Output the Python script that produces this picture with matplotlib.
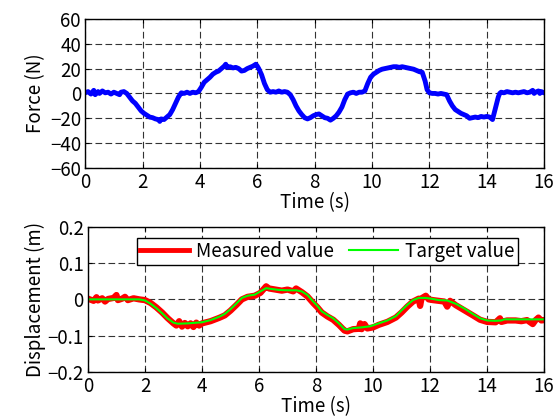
import matplotlib
matplotlib.use("Agg")
import matplotlib.pyplot as plt

plt.rcParams.update({
    "font.family": ["Noto Sans CJK JP", "DejaVu Sans"],
    "font.size": 13.5,
    "axes.linewidth": 1.0,
    "xtick.direction": "in",
    "ytick.direction": "in",
    "xtick.top": True,
    "ytick.right": True,
    "xtick.major.size": 3,
    "ytick.major.size": 3,
    "xtick.major.pad": 3,
    "ytick.major.pad": 3,
})

# ---- force data ----
t_force = [0.0, 0.1, 0.2, 0.3, 0.35, 0.45, 0.5, 0.6, 0.7, 0.8, 0.9, 1.0, 1.1, 1.2, 1.25, 1.35,
           1.45, 1.55, 1.65, 1.75, 1.85, 1.95, 2.05, 2.15, 2.25, 2.35, 2.45, 2.55, 2.6, 2.65,
           2.75, 2.85, 2.95, 3.05, 3.15, 3.25, 3.35, 3.45, 3.55, 3.65, 3.75, 3.85, 3.95, 4.05,
           4.15, 4.25, 4.35, 4.45, 4.55, 4.65, 4.75, 4.85, 4.9, 4.95, 5.05, 5.15, 5.25, 5.35,
           5.45, 5.55, 5.65, 5.75, 5.85, 5.95, 6.0, 6.05, 6.15, 6.25, 6.35, 6.45, 6.55, 6.65,
           6.75, 6.85, 6.95, 7.05, 7.15, 7.25, 7.35, 7.45, 7.55, 7.65, 7.75, 7.85, 7.95, 8.05,
           8.15, 8.25, 8.35, 8.45, 8.55, 8.65, 8.75, 8.85, 8.95, 9.05, 9.15, 9.25, 9.35, 9.45,
           9.55, 9.65, 9.75, 9.85, 9.95, 10.05, 10.15, 10.25, 10.35, 10.45, 10.55, 10.65, 10.75,
           10.85, 10.95, 11.05, 11.15, 11.25, 11.35, 11.45, 11.55, 11.65, 11.75, 11.85, 11.92,
           12.0, 12.1, 12.2, 12.3, 12.4, 12.5, 12.6, 12.7, 12.8, 12.9, 13.0, 13.1, 13.2, 13.3,
           13.4, 13.5, 13.6, 13.7, 13.8, 13.9, 14.0, 14.1, 14.2, 14.3, 14.4, 14.45, 14.5, 14.6,
           14.7, 14.8, 14.9, 15.0, 15.1, 15.2, 15.3, 15.4, 15.5, 15.6, 15.65, 15.7, 15.8, 15.85,
           15.9, 16.0]
force = [0.5, 1.5, -0.5, 2.5, -1, 1.5, 0, 2, 0.5, 1, -0.5, 1, 0, -1, 1, 1.5,
         0, -3, -6, -8, -11, -14, -16, -17.5, -19, -19.5, -20.5, -21, -22.5, -20.5,
         -21, -19, -17, -13, -8, -3, 0.5, 0, 1, 0, 1, 0.5, 1.5, 5,
         9, 11, 13, 15.5, 17, 18, 20, 22, 23.5, 21, 21.5, 20.5, 21, 20,
         18, 18.5, 20, 21, 22, 23.5, 22, 20, 15, 8, 3, 1, 1.5, 1,
         2, 1, 1.5, 1, -1, -5, -10, -14, -17, -19.5, -20.5, -19.5, -18, -17,
         -16.5, -18, -19.5, -20, -21.5, -20, -18, -15, -11, -5, -0.5, 0.5, 1, 0,
         1, 1, 2, 8, 13, 15.5, 17, 18.5, 19.5, 20, 20.5, 21, 21.5,
         21.5, 21, 21.5, 21, 20.5, 20, 19.5, 18.5, 17.5, 17, 10, 3,
         0.5, 0, 0, -0.5, 0, -0.5, -1, -6, -10, -13, -14.5, -16, -17, -18,
         -20, -19.5, -19, -19.5, -18.5, -19, -18.5, -19, -21, -12, -3, 0, 1, 0.5,
         1.5, 1, 0.5, 1, 0.5, 1, 1.5, 0.5, 1, 2.5, 0, 1, 2, 0,
         1.5, 0.5]

# ---- displacement data ----
t_target = [0, 1.8, 2.0, 2.2, 2.4, 2.6, 2.8, 3.0, 3.15, 3.5, 4.0, 4.3, 4.6, 4.8, 5.0, 5.2,
            5.4, 5.6, 5.85, 6.05, 6.25, 6.4, 6.7, 7.0, 7.3, 7.5, 7.7, 7.9, 8.05, 8.2, 8.4,
            8.6, 8.8, 9.0, 9.1, 9.3, 9.6, 9.9, 10.2, 10.5, 10.8, 11.0, 11.2, 11.4, 11.6,
            11.85, 12.1, 12.3, 12.6, 12.9, 13.2, 13.5, 13.75, 14.0, 14.3, 14.5, 14.6, 15.0,
            15.5, 16.0]
target = [0, 0, -0.003, -0.012, -0.024, -0.038, -0.053, -0.064, -0.067, -0.066, -0.063,
          -0.057, -0.048, -0.040, -0.027, -0.012, 0.004, 0.010, 0.013, 0.022, 0.031, 0.029,
          0.026, 0.025, 0.025, 0.022, 0.012, -0.006, -0.018, -0.033, -0.043, -0.052, -0.066,
          -0.082, -0.083, -0.079, -0.077, -0.074, -0.066, -0.058, -0.046, -0.030, -0.015,
          -0.002, 0.004, 0.004, 0.001, -0.002, -0.003, -0.012, -0.025, -0.040, -0.052,
          -0.058, -0.059, -0.058, -0.055, -0.055, -0.055, -0.055]

t_meas = [0, 0.2, 0.3, 0.35, 0.5, 0.6, 0.7, 0.9, 1.0, 1.05, 1.2, 1.3, 1.4, 1.6, 1.8, 2.0,
          2.2, 2.4, 2.6, 2.8, 3.0, 3.1, 3.2, 3.3, 3.4, 3.5, 3.6, 3.7, 3.8, 3.9, 4.0, 4.3,
          4.6, 4.8, 5.0, 5.2, 5.4, 5.6, 5.85, 6.05, 6.25, 6.35, 6.5, 6.8, 7.0, 7.2, 7.3,
          7.5, 7.7, 7.9, 8.05, 8.2, 8.4, 8.6, 8.8, 9.0, 9.1, 9.3, 9.5, 9.55, 9.6, 9.7, 9.8,
          10.0, 10.2, 10.5, 10.8, 11.0, 11.2, 11.4, 11.6, 11.65, 11.7, 11.85, 11.95, 12.1,
          12.3, 12.5, 12.6, 12.7, 12.9, 13.2, 13.5, 13.75, 14.0, 14.3, 14.45, 14.5, 14.7,
          15.0, 15.2, 15.4, 15.6, 15.7, 15.8, 15.9, 16.0]
measured = [0.002, -0.004, 0.006, -0.003, 0.003, -0.006, 0.001, 0.004, 0.012, -0.002,
            0.002, 0.007, -0.002, 0.003, 0.000, -0.002, -0.010, -0.022, -0.036, -0.052,
            -0.066, -0.072, -0.060, -0.075, -0.065, -0.074, -0.066, -0.076, -0.064, -0.072,
            -0.066, -0.060, -0.051, -0.044, -0.031, -0.016, 0.000, 0.007, 0.010, 0.018,
            0.036, 0.030, 0.028, 0.024, 0.027, 0.022, 0.030, 0.020, 0.008, -0.010, -0.022,
            -0.036, -0.047, -0.056, -0.070, -0.086, -0.088, -0.082, -0.081, -0.066, -0.082,
            -0.068, -0.080, -0.077, -0.070, -0.062, -0.050, -0.036, -0.020, -0.006, 0.002,
            -0.018, 0.003, 0.010, 0.000, -0.002, -0.004, -0.006, -0.020, -0.004, -0.016,
            -0.030, -0.044, -0.056, -0.062, -0.063, -0.052, -0.062, -0.058, -0.058, -0.060,
            -0.057, -0.068, -0.057, -0.050, -0.058, -0.057]

fig = plt.figure(figsize=(5.53, 4.19), dpi=100)
ax1 = fig.add_axes([0.154, 0.599, 0.830, 0.356])
ax2 = fig.add_axes([0.159, 0.112, 0.825, 0.347])

for ax in (ax1, ax2):
    ax.grid(True, color="#333333", linestyle=(0, (6, 3)), linewidth=0.8)
    ax.set_xlim(0, 16)
    ax.set_xticks(range(0, 17, 2))
    ax.set_xlabel("Time (s)", labelpad=-1)

ax1.plot(t_force, force, color="#0000ff", linewidth=3.5)
ax1.set_ylim(-60, 60)
ax1.set_yticks(range(-60, 61, 20))
ax1.set_ylabel("Force (N)", labelpad=3)

ax2.plot(t_meas, measured, color="#ff0000", linewidth=4.5, label="Measured value")
ax2.plot(t_target, target, color="#00ff00", linewidth=1.5, label="Target value")
ax2.set_ylim(-0.2, 0.2)
ax2.set_yticks([-0.2, -0.1, 0, 0.1, 0.2])
ax2.set_yticklabels(["−0.2", "−0.1", "0", "0.1", "0.2"])
ax2.set_ylabel("Displacement (m)", labelpad=1)
leg = ax2.legend(loc="upper center", ncol=2, fancybox=False, framealpha=1,
                 edgecolor="black", handlelength=2.6, columnspacing=0.8,
                 borderpad=0.15, handletextpad=0.4, bbox_to_anchor=(0.525, 0.985))
leg.get_frame().set_linewidth(1.0)
leg.get_lines()[0].set_linewidth(3.5)

fig.savefig("out.png", dpi=100)
